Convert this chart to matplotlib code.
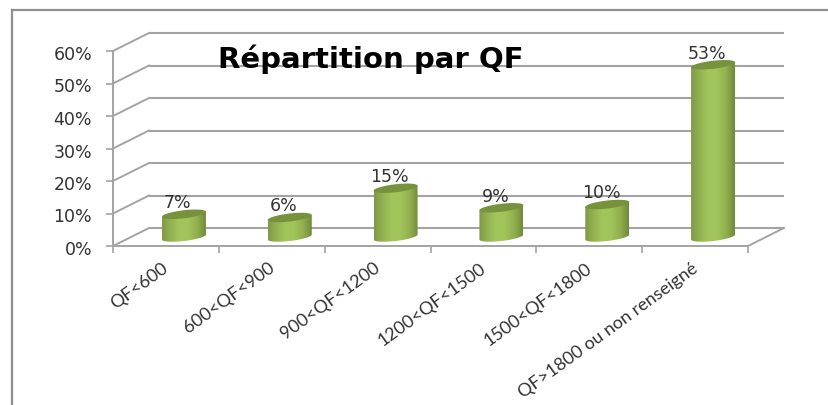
import numpy as np
import matplotlib
matplotlib.use("Agg")
import matplotlib.pyplot as plt
from matplotlib.patches import Polygon
from matplotlib.lines import Line2D
from matplotlib.transforms import ScaledTranslation

categories = ["QF<600", "600<QF<900", "900<QF<1200", "1200<QF<1500",
              "1500<QF<1800", "QF>1800 ou non renseigné"]
values = [0.07, 0.06, 0.15, 0.09, 0.10, 0.53]
value_labels = ["7%", "6%", "15%", "9%", "10%", "53%"]
y_ticks = [0, 0.1, 0.2, 0.3, 0.4, 0.5, 0.6]
y_labels = ["0%", "10%", "20%", "30%", "40%", "50%", "60%"]
title = "Répartition par QF"

W, H = 829, 405
fig = plt.figure(figsize=(W / 100, H / 100), dpi=100, facecolor="white")
ax = fig.add_axes([113 / W, (H - 246) / H, 635 / W, 195 / H])
ax.patch.set_visible(False)
GRID = "#a3a3a3"

# layout of the fake 3D box, in data units
px = 6 / 635          # one pixel in x data units
py = 0.6 / 195        # one pixel in y data units
DX, DY = 36 * px, 18 * py
HALF_W = 22 * px
ELL_B = 4.0 * py
TILT = 2.5 * py

# back wall gridlines and side-wall diagonals
for v in y_ticks:
    ax.plot([-0.5 + DX, 5.5 + DX], [v + DY, v + DY], color=GRID, lw=1.5,
            clip_on=False, zorder=1, solid_capstyle="butt")
    ax.plot([-0.5, -0.5 + DX], [v, v + DY], color=GRID, lw=1.4,
            clip_on=False, zorder=1)
ax.plot([5.5, 5.5 + DX], [0, DY], color=GRID, lw=1.4, clip_on=False, zorder=1)

cmap = matplotlib.colors.LinearSegmentedColormap.from_list(
    "cyl", ["#7f9a47", "#94b352", "#a2c65c", "#a0c35a", "#92b04f", "#6f8a3a"])
grad = np.linspace(0, 1, 128).reshape(1, -1)
t = np.linspace(0, 2 * np.pi, 90)
sweep = np.linspace(-np.pi, 0, 45)

for i, v in enumerate(values):
    cx = i + DX / 2
    y0 = DY / 2
    y1 = v + DY / 2
    # body outline: lower half of base ellipse (left to right), then top rim back
    bx = cx + HALF_W * np.cos(sweep)
    by = y0 + ELL_B * np.sin(sweep) + TILT * np.cos(sweep)
    tx = bx[::-1]
    ty = y1 + TILT * np.cos(sweep)[::-1]
    body = Polygon(np.column_stack([np.r_[bx, tx], np.r_[by, ty]]),
                   closed=True, transform=ax.transData, fc="none", ec="none")
    ax.add_patch(body)
    im = ax.imshow(grad, cmap=cmap, aspect="auto", zorder=3,
                   extent=[cx - HALF_W, cx + HALF_W, y0 - 2 * ELL_B - TILT, y1 + TILT],
                   interpolation="bilinear")
    im.set_clip_path(body)
    ax.fill(cx + HALF_W * np.cos(t),
            y1 + ELL_B * np.sin(t) + TILT * np.cos(t),
            color="#76923c", zorder=4, clip_on=False, lw=0)
    ax.annotate(value_labels[i], xy=(cx - 6 * px, y1), xytext=(0, 1.5),
                textcoords="offset points", ha="center", va="bottom",
                fontsize=12.5, color="#333333", family="DejaVu Sans", zorder=6)

ax.set_xlim(-0.5, 5.5)
ax.set_ylim(0, 0.6)
for s in ["top", "right"]:
    ax.spines[s].set_visible(False)
for s in ["left", "bottom"]:
    ax.spines[s].set_color(GRID)
    ax.spines[s].set_linewidth(1.4)

ax.set_yticks(y_ticks)
ax.set_yticklabels(y_labels, fontsize=12.5, color="#333333", family="DejaVu Sans")
ax.tick_params(axis="y", length=5, width=1.2, color=GRID, pad=10)
shift_down = ScaledTranslation(0, -2 / 100, fig.dpi_scale_trans)
for lab in ax.get_yticklabels():
    lab.set_transform(lab.get_transform() + shift_down)
ax.set_xticks(np.arange(-0.5, 6, 1))
ax.set_xticklabels([])
ax.tick_params(axis="x", which="major", length=5, width=1.2, color=GRID)
ax.set_xticks(range(6), minor=True)
ax.set_xticklabels(categories, minor=True, rotation=36, ha="right",
                   rotation_mode="anchor", fontsize=13, color="#333333",
                   family="Lato")
ax.tick_params(axis="x", which="minor", length=0, pad=10)
shift_left = ScaledTranslation(-4 / 100, 0, fig.dpi_scale_trans)
for lab in ax.get_xticklabels(minor=True):
    lab.set_transform(lab.get_transform() + shift_left)

fig.text(371 / W, 1 - 59 / H, title, ha="center", va="center", fontsize=21,
         fontweight="bold", family="DejaVu Sans", color="black", zorder=10)

# outer chart border: top and left edges only
fig.add_artist(Line2D([12 / W, 1], [1 - 10 / H, 1 - 10 / H], color="#8f8f8f", lw=1.6))
fig.add_artist(Line2D([12 / W, 12 / W], [0, 1 - 10 / H], color="#8f8f8f", lw=1.6))

fig.savefig("out.png", dpi=100, facecolor="white")
